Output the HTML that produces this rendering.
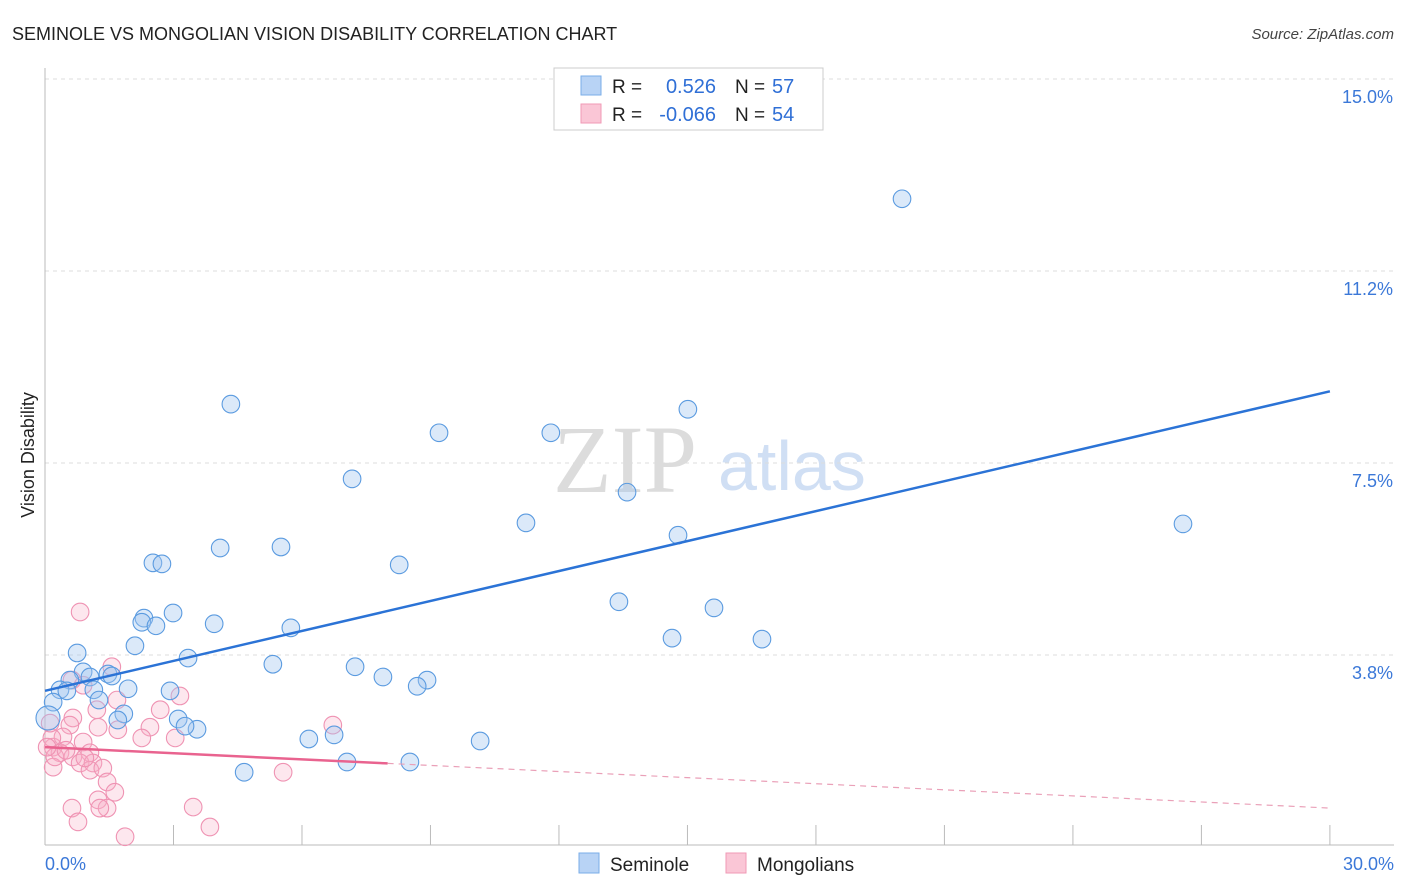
<!DOCTYPE html>
<html><head><meta charset="utf-8">
<style>
body{margin:0;background:#fff;font-family:"Liberation Sans",sans-serif;}
svg{display:block}
</style></head>
<body>
<svg width="1406" height="892" viewBox="0 0 1406 892" xmlns="http://www.w3.org/2000/svg">
<text x="12" y="40" font-size="18" fill="#222">SEMINOLE VS MONGOLIAN VISION DISABILITY CORRELATION CHART</text>
<text x="1394" y="39" font-size="15" fill="#444" font-style="italic" text-anchor="end">Source: ZipAtlas.com</text>
<g>
<text x="553" y="492" font-family="Liberation Serif,serif" font-size="96" fill="#dcdcdc">ZIP</text>
<text x="718" y="490" font-size="70" fill="#d0dff4">atlas</text>
</g>
<g id="grid"></g>
<g id="axes"></g>
<g id="marks"></g>
<text transform="translate(34,455) rotate(-90)" font-size="18" fill="#222" text-anchor="middle">Vision Disability</text>
<g>
<rect x="554" y="68" width="269" height="62" fill="#fff" stroke="#ccc"/>
<rect x="581" y="76" width="20" height="19" fill="#b8d3f5" stroke="#7aaee8"/>
<rect x="581" y="104" width="20" height="19" fill="#fac6d6" stroke="#f09ab6"/>
<text x="612" y="93" font-size="19" fill="#222">R =</text><text x="716" y="93" font-size="20" fill="#2f6fd6" text-anchor="end">0.526</text>
<text x="735" y="93" font-size="19" fill="#222">N =</text><text x="772" y="93" font-size="20" fill="#2f6fd6">57</text>
<text x="612" y="121" font-size="19" fill="#222">R =</text><text x="716" y="121" font-size="20" fill="#2f6fd6" text-anchor="end">-0.066</text>
<text x="735" y="121" font-size="19" fill="#222">N =</text><text x="772" y="121" font-size="20" fill="#2f6fd6">54</text>
</g>
<g>
<rect x="579" y="853" width="20" height="20" fill="#b8d3f5" stroke="#7aaee8"/>
<text x="610" y="871" font-size="19" fill="#222">Seminole</text>
<rect x="726" y="853" width="20" height="20" fill="#fac6d6" stroke="#f09ab6"/>
<text x="757" y="871" font-size="19" fill="#222">Mongolians</text>
</g>
</svg>
<script>
const yTicks=[3.75,7.5,11.25,15];
const yTickLabels=["3.8%","7.5%","11.2%","15.0%"];
const xTickLabels=["0.0%","30.0%"];
const seminoleX=[20.01,4.34,15.01,9.20,11.81,7.17,13.59,11.23,26.57,14.78,4.09,5.51,2.52,2.73,8.27,13.40,15.62,2.99,2.31,2.26,2.59,3.95,5.74,2.10,14.64,16.74,0.75,3.34,5.32,7.24,0.89,1.47,1.56,1.05,0.58,7.89,8.92,8.69,0.35,0.51,1.94,1.14,2.92,1.26,0.19,1.84,3.11,1.70,3.55,3.27,6.16,6.75,10.16,4.65,7.05,8.52,0.07];
const seminoleY=[12.66,8.65,8.55,8.09,8.09,7.19,6.93,6.33,6.31,6.09,5.84,5.86,5.55,5.53,5.51,4.79,4.67,4.57,4.47,4.39,4.32,4.36,4.28,3.93,4.08,4.06,3.79,3.69,3.57,3.52,3.42,3.38,3.34,3.32,3.26,3.32,3.26,3.14,3.07,3.05,3.09,3.07,3.05,2.87,2.83,2.60,2.50,2.48,2.30,2.36,2.11,2.19,2.07,1.46,1.66,1.66,2.52];
const mongolX=[0.82,1.56,0.63,0.89,1.68,3.15,0.65,1.21,2.69,0.58,1.24,1.70,2.45,6.72,2.26,3.04,0.19,0.42,0.89,0.35,0.65,1.05,0.82,1.12,0.19,1.05,1.35,5.56,1.45,1.63,1.24,1.45,0.63,3.46,0.77,1.87,3.85,0.16,0.23,0.05,1.28,0.12,0.49,0.93];
const mongolY=[4.59,3.52,3.26,3.16,2.87,2.95,2.52,2.68,2.68,2.38,2.34,2.29,2.34,2.38,2.13,2.13,1.95,2.15,2.05,1.84,1.76,1.84,1.64,1.64,1.56,1.50,1.54,1.46,1.27,1.07,0.92,0.76,0.76,0.78,0.49,0.20,0.39,2.13,1.76,1.95,0.76,2.42,1.89,1.74];
const seminoleTrend=[3.05,8.9];
const mongolTrend=[1.95,0.76];
const mongolSolidEnd=8.0;

const NS="http://www.w3.org/2000/svg";
const X=v=>45+v*42.83, Y=v=>847-v*51.2;
function mk(tag,attrs,parent){const e=document.createElementNS(NS,tag);for(const k in attrs)e.setAttribute(k,attrs[k]);document.getElementById(parent).appendChild(e);return e;}
yTicks.forEach((t,i)=>{
 const g=mk('line',{x1:45,x2:1394,y1:Y(t),y2:Y(t),stroke:'#ddd','stroke-dasharray':'4,4'},'grid');
 
 
 const l=mk('text',{x:1393,y:Y(t)+24,'font-size':18,fill:'#3b78d8','text-anchor':'end'},'grid');
 l.textContent=yTickLabels[i];
 
 
});
const ax=mk('line',{x1:45,x2:45,y1:68,y2:845,stroke:'#bbb'},'axes');


const bx=mk('line',{x1:45,x2:1394,y1:845,y2:845,stroke:'#bbb'},'axes');


for(let i=1;i<=10;i++){
 const t=mk('line',{x1:X(i*3),x2:X(i*3),y1:825,y2:845,stroke:'#bbb'},'axes');
 
 
}
[[0,'start',45],[30,'end',1394]].forEach((p,i)=>{
 const l=mk('text',{x:p[2],y:870,'font-size':18,fill:'#3b78d8','text-anchor':p[1]},'axes');
 l.textContent=xTickLabels[i];
 
 
});
mongolX.forEach((x,i)=>{
 const c=mk('circle',{cx:X(x),cy:Y(mongolY[i]),r:8.8,fill:'rgba(248,175,198,0.3)',stroke:'#ef93b3','stroke-width':1.1},'marks');
 
 
});
seminoleX.forEach((x,i)=>{
 const c=mk('circle',{cx:X(x),cy:Y(seminoleY[i]),r:(i==seminoleX.length-1?12:8.8),fill:'rgba(160,196,240,0.38)',stroke:'#5b9be0','stroke-width':1.1},'marks');
 
 
});
const bl=mk('line',{x1:X(0),y1:Y(seminoleTrend[0]),x2:X(30),y2:Y(seminoleTrend[1]),stroke:'#2b73d6','stroke-width':2.5},'marks');


const pm=mongolTrend[0]+(mongolTrend[1]-mongolTrend[0])*mongolSolidEnd/30;
const pl=mk('line',{x1:X(0),y1:Y(mongolTrend[0]),x2:X(mongolSolidEnd),y2:Y(pm),stroke:'#e9638f','stroke-width':2.5},'marks');


const pd=mk('line',{x1:X(mongolSolidEnd),y1:Y(pm),x2:X(30),y2:Y(mongolTrend[1]),stroke:'#eaa0b8','stroke-width':1.2,'stroke-dasharray':'6,5'},'marks');


</script>
</body></html>
